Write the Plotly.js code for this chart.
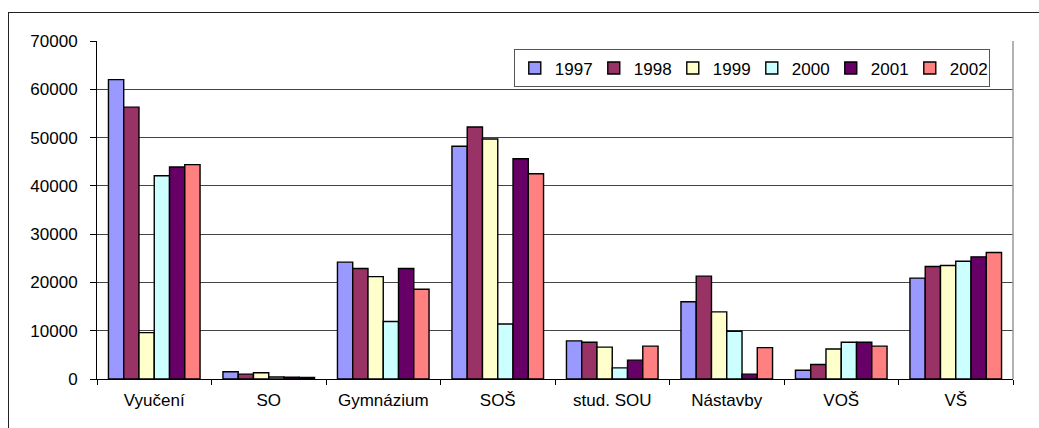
<!DOCTYPE html>
<html>
<head>
<meta charset="utf-8">
<script src="https://cdn.plot.ly/plotly-3.0.1.min.js"></script>
<style>
  html, body { margin: 0; padding: 0; background: #fff; }
  #wrap { position: relative; width: 1039px; height: 428px; overflow: hidden; }
  #frame { position: absolute; left: 8px; top: 12px; width: 1100px; height: 500px;
           border-left: 1.5px solid #222; border-top: 1.5px solid #222; }
  #chart { position: absolute; left: 0; top: 0; width: 1039px; height: 428px; }
</style>
</head>
<body>
<div id="wrap">
  <div id="frame"></div>
  <div id="chart"></div>
</div>
<script>
const categories = ["Vyučení", "SO", "Gymnázium", "SOŠ", "stud. SOU", "Nástavby", "VOŠ", "VŠ"];
const years = ["1997", "1998", "1999", "2000", "2001", "2002"];
const v1997 = [62000, 1500, 24200, 48200, 7900, 16000, 1800, 20900];
const v1998 = [56300, 1000, 22900, 52200, 7600, 21300, 3000, 23300];
const v1999 = [9600, 1300, 21200, 49700, 6600, 13900, 6200, 23500];
const v2000 = [42100, 400, 11900, 11400, 2300, 9900, 7600, 24400];
const v2001 = [43900, 350, 22900, 45600, 3900, 1000, 7600, 25300];
const v2002 = [44400, 300, 18600, 42500, 6800, 6500, 6800, 26200];
const colors = ["#9999FF", "#993366", "#FFFFCC", "#CCFFFF", "#660066", "#FF8080"];
const series = [v1997, v1998, v1999, v2000, v2001, v2002];

const font = "Liberation Sans, Arial, sans-serif";
const traces = series.map((vals, i) => ({
  type: "bar",
  name: years[i],
  x: categories,
  y: vals,
  marker: { color: colors[i], line: { color: "#000", width: 1.4 } },
  hoverinfo: "x+y+name"
}));

const layout = {
  width: 1039, height: 428,
  paper_bgcolor: "rgba(0,0,0,0)",
  plot_bgcolor: "rgba(0,0,0,0)",
  margin: { l: 97, r: 26, t: 41, b: 49 },
  barmode: "group",
  bargap: 0.2,
  bargroupgap: 0,
  showlegend: true,
  font: { family: font, size: 17, color: "#000" },
  legend: {
    orientation: "h",
    x: 0.455, xanchor: "left",
    y: 0.975, yanchor: "top",
    bgcolor: "#fff",
    bordercolor: "#555",
    borderwidth: 1,
    font: { family: font, size: 17, color: "#000" },
    traceorder: "normal",
    itemwidth: 30,
    entrywidth: 34,
    tracegroupgap: 0
  },
  xaxis: {
    type: "category",
    showgrid: false,
    showline: true,
    linecolor: "#000",
    linewidth: 1,
    ticks: "outside",
    tickson: "boundaries",
    ticklen: 5,
    tickcolor: "#000",
    tickfont: { family: font, size: 17, color: "#000" },
    ticklabelstandoff: 6,
    fixedrange: true
  },
  yaxis: {
    range: [0, 70000],
    dtick: 10000,
    tick0: 0,
    showgrid: true,
    gridcolor: "#444",
    gridwidth: 1,
    zeroline: true,
    zerolinecolor: "#000",
    showline: true,
    linecolor: "#000",
    linewidth: 1,
    ticks: "outside",
    ticklen: 6,
    tickcolor: "#000",
    tickformat: "d",
    tickfont: { family: font, size: 17, color: "#000" },
    ticklabelstandoff: 9,
    fixedrange: true
  },
  shapes: [
    { type: "line", xref: "paper", yref: "paper", x0: 1, x1: 1, y0: 0, y1: 1,
      line: { color: "#999", width: 1.5 } }
  ]
};

Plotly.newPlot("chart", traces, layout, { displayModeBar: false, staticPlot: true });
</script>
</body>
</html>
